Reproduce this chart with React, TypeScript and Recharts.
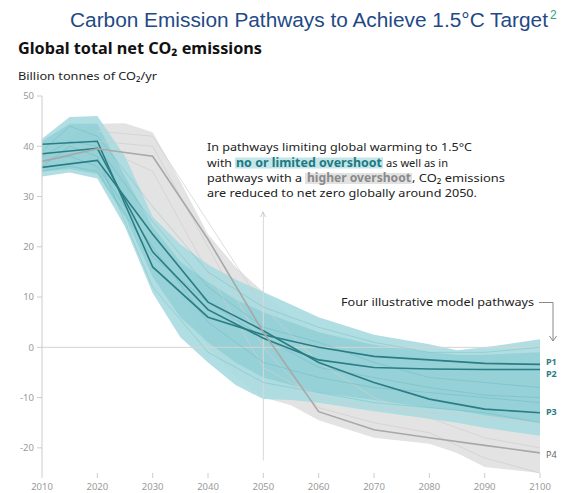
import React from 'react';
import { ComposedChart, Area, Line, XAxis, YAxis, ReferenceLine } from 'recharts';

const years = [2010, 2015, 2020, 2025, 2030, 2035, 2040, 2045, 2050, 2055, 2060, 2070, 2080, 2085, 2090, 2100];

// "No or limited overshoot" range (teal)
const tealHigh = [41.5, 45.8, 46, 38, 26, 20.5, 16.5, 13.5, 11, 8.5, 6, 2.5, 0.6, -0.6, 0, 1.6];
const tealLow = [34, 34.8, 33.6, 24, 10.8, 2, -3, -7.5, -10.3, -10.5, -11, -12.7, -14.2, -15, -16, -17.6];
const coreHigh = [41, 44.5, 44.5, 34, 24, 17, 13, 9.5, 7, 5, 3, 0.5, -1, -1.5, -1.5, -1];
const coreLow = [35, 35.5, 34.5, 26, 14, 6, 1, -3, -6, -7.5, -9, -10.5, -12, -12.5, -13.5, -15];

// "Higher overshoot" range (gray)
const grayHigh = [38, 42, 44.5, 44.6, 42.8, 33, 22.5, 16, 11, 6, 3, 0, -2, -3, -3, -3];
const grayLow = [35, 36, 35, 30, 20, 10, 0, -6, -10, -11.5, -14.5, -18, -19.2, -21, -23.8, -25];

// Illustrative pathways
const p1 = [40.4, null, 41, null, 16, null, 6, null, 2.5, null, 0, -1.8, -2.5, null, -3.2, -3.4];
const p2 = [38.5, null, 39.6, null, 19, null, 7.5, null, 1.8, null, -2.5, -4, -4.3, null, -4.4, -4.4];
const p3 = [35.8, null, 37.2, null, 22.5, null, 9, null, 3.3, null, -3, -7, -10.3, null, -12.3, -13];
const p4 = [37, null, 39.5, null, 38, null, 21.5, null, 3, null, -12.8, -16.4, -18, null, -19.5, -21];

// Background model pathways
const bgT1 = [39, 44, 42, null, 28, null, 15, null, 8, null, 4, 1, -1, null, -1, 0];
const bgT2 = [36, 40, 38, null, 12, null, -1, null, -7, null, -9, -11, -12, null, -13, -15];
const bgT3 = [37, 38, 36, null, 20, null, 5, null, -3, null, -6, -8, -9, null, -10, -11];
const bgT4 = [38, 41, 40, null, 25, null, 12, null, 4, null, 1, -3, -6, null, -7, -8];
const bgT5 = [35, 36, 35, null, 18, null, 9, null, 2, null, -4, -6, -8, null, -9.5, -10];
const bgG1 = [null, null, 43, null, 42, null, 25, null, 8, null, -3, -10, -14, null, -18, -20];
const bgG2 = [null, null, 41, null, 40, null, 20, null, 0, null, -12, -15, -17, null, -22, -25];
const bgG3 = [null, null, 40, null, 35, null, 15, null, -4, null, -10, -12, -13, null, -14, -15];

const xTicks = [2010, 2020, 2030, 2040, 2050, 2060, 2070, 2080, 2090, 2100];
const yTicks = [-20, -10, 0, 10, 20, 30, 40, 50];

const data = years.map((year, i) => ({
  year,
  teal: [tealLow[i], tealHigh[i]],
  core: [coreLow[i], coreHigh[i]],
  gray: [grayLow[i], grayHigh[i]],
  p1: p1[i], p2: p2[i], p3: p3[i], p4: p4[i],
  bgT1: bgT1[i], bgT2: bgT2[i], bgT3: bgT3[i], bgT4: bgT4[i], bgT5: bgT5[i],
  bgG1: bgG1[i], bgG2: bgG2[i], bgG3: bgG3[i],
}));

const FONT = '"Noto Sans", "Open Sans", sans-serif';
const TEAL = '#2b7d84';

const endLabel = (text: string, color: string, dy: number, bold: boolean) => (props: any) => {
  const { x, y, index } = props;
  if (index !== years.length - 1 || x == null || y == null) return <g key={`e${index}`} />;
  return (
    <text key={`lbl-${text}`} x={x + 6} y={y + dy} dominantBaseline="central" fontSize={9}
      fontFamily={FONT} fontWeight={bold ? 700 : 400} fill={color}>{text}</text>
  );
};

const bgTeal = ['bgT1', 'bgT2', 'bgT3', 'bgT4', 'bgT5'];
const bgGray = ['bgG1', 'bgG2', 'bgG3'];

export default function App() {
  return (
    <div style={{ position: 'absolute', left: 0, top: 0, width: 573, height: 493, background: '#fff' }}>
      <ComposedChart width={573} height={493} data={data} margin={{ top: 96, right: 33, bottom: 0, left: 0 }}>
        <XAxis dataKey="year" type="number" domain={[2010, 2100]} ticks={xTicks} axisLine={false}
          tickLine={{ stroke: '#cccccc' }} tickSize={5} tickMargin={5} height={20}
          tick={{ fontSize: 9.5, fill: '#9a9a9a', fontFamily: FONT }} interval={0} />
        <YAxis type="number" domain={[-25, 50]} ticks={yTicks} allowDataOverflow width={42}
          axisLine={{ stroke: '#cccccc' }} tickLine={{ stroke: '#cccccc' }} tickSize={5} tickMargin={3}
          tick={{ fontSize: 9.5, fill: '#9a9a9a', fontFamily: FONT }} interval={0} />
        <ReferenceLine y={0} stroke="#d4d4d4" strokeWidth={1} />
        <ReferenceLine segment={[{ x: 2050, y: -22.5 }, { x: 2050, y: 27 }]} stroke="#d8d8d8" strokeWidth={1} />
        <Area dataKey="gray" type="linear" stroke="none" fill="#e3e3e3" fillOpacity={1} isAnimationActive={false} />
        {bgGray.map((k) => (
          <Line key={k} dataKey={k} type="linear" stroke="#cfcfcf" strokeWidth={0.7} dot={false}
            connectNulls isAnimationActive={false} />
        ))}
        <Area dataKey="teal" type="linear" stroke="none" fill="#a9dbe0" fillOpacity={0.92} isAnimationActive={false} />
        <Area dataKey="core" type="linear" stroke="none" fill="#6fc0c8" fillOpacity={0.38} isAnimationActive={false} />
        {bgTeal.map((k) => (
          <Line key={k} dataKey={k} type="linear" stroke="#4ea7b0" strokeOpacity={0.35} strokeWidth={0.8} dot={false}
            connectNulls isAnimationActive={false} />
        ))}
        <Line dataKey="p1" type="linear" stroke={TEAL} strokeWidth={1.6} dot={false} connectNulls
          isAnimationActive={false} label={endLabel('P1', TEAL, -3, true)} />
        <Line dataKey="p2" type="linear" stroke={TEAL} strokeWidth={1.6} dot={false} connectNulls
          isAnimationActive={false} label={endLabel('P2', TEAL, 4.5, true)} />
        <Line dataKey="p3" type="linear" stroke={TEAL} strokeWidth={1.6} dot={false} connectNulls
          isAnimationActive={false} label={endLabel('P3', TEAL, -1, true)} />
        <Line dataKey="p4" type="linear" stroke="#a8a8a8" strokeWidth={1.6} dot={false} connectNulls
          isAnimationActive={false} label={endLabel('P4', '#666666', 2, false)} />
      </ComposedChart>
      <svg width={573} height={493} style={{ position: 'absolute', left: 0, top: 0, pointerEvents: 'none' }}>
        <text x={70} y={27} fontFamily='"Liberation Sans", Arial, sans-serif' fontSize={20.5} fill="#1f4a86"
          textLength={478} lengthAdjust="spacingAndGlyphs">Carbon Emission Pathways to Achieve 1.5°C Target</text>
        <text x={550} y={19} fontFamily='"Liberation Sans", Arial, sans-serif' fontSize={12} fill="#2aa57a">2</text>
        <text x={18} y={54} fontFamily={FONT} fontSize={16.5} fontWeight={700} fill="#111"
          textLength={244} lengthAdjust="spacingAndGlyphs">Global total net CO₂ emissions</text>
        <text x={18} y={80} fontFamily={FONT} fontSize={11.5} fill="#222"
          textLength={139} lengthAdjust="spacingAndGlyphs">Billion tonnes of CO₂/yr</text>

        <rect x={235} y={157.5} width={148} height={11} fill="#c4e6e9" />
        <rect x={305} y={173} width={107} height={11} fill="#e2e2e2" />
        <text x={207} y={151} fontFamily={FONT} fontSize={11.5} fill="#222" textLength={265}
          lengthAdjust="spacingAndGlyphs">In pathways limiting global warming to 1.5°C</text>
        <text x={207} y={166.5} fontFamily={FONT} fontSize={11.5} fill="#222" textLength={25}
          lengthAdjust="spacingAndGlyphs">with</text>
        <text x={236} y={166.5} fontFamily={FONT} fontSize={11.5} fontWeight={700} fill="#1d7a82" textLength={146}
          lengthAdjust="spacingAndGlyphs">no or limited overshoot</text>
        <text x={386} y={166.5} fontFamily={FONT} fontSize={11.5} fill="#222" textLength={62}
          lengthAdjust="spacingAndGlyphs">as well as in</text>
        <text x={207} y={182} fontFamily={FONT} fontSize={11.5} fill="#222" textLength={95}
          lengthAdjust="spacingAndGlyphs">pathways with a</text>
        <text x={307} y={182} fontFamily={FONT} fontSize={11.5} fontWeight={700} fill="#8a8a8a" textLength={104}
          lengthAdjust="spacingAndGlyphs">higher overshoot</text>
        <text x={412} y={182} fontFamily={FONT} fontSize={11.5} fill="#222" textLength={93}
          lengthAdjust="spacingAndGlyphs">, CO₂ emissions</text>
        <text x={207} y={197} fontFamily={FONT} fontSize={11.5} fill="#222" textLength={270}
          lengthAdjust="spacingAndGlyphs">are reduced to net zero globally around 2050.</text>

        <path d="M263 212 L260.5 217 M263 212 L265.5 217" stroke="#cccccc" strokeWidth={1} fill="none" />

        <text x={341} y={306} fontFamily={FONT} fontSize={11.5} fill="#222" textLength={193}
          lengthAdjust="spacingAndGlyphs">Four illustrative model pathways</text>
        <path d="M539 302.5 L553 302.5 L553 341" stroke="#888888" strokeWidth={1} fill="none" />
        <path d="M549.5 336 L553 341 L556.5 336" stroke="#888888" strokeWidth={1} fill="none" />
      </svg>
    </div>
  );
}
